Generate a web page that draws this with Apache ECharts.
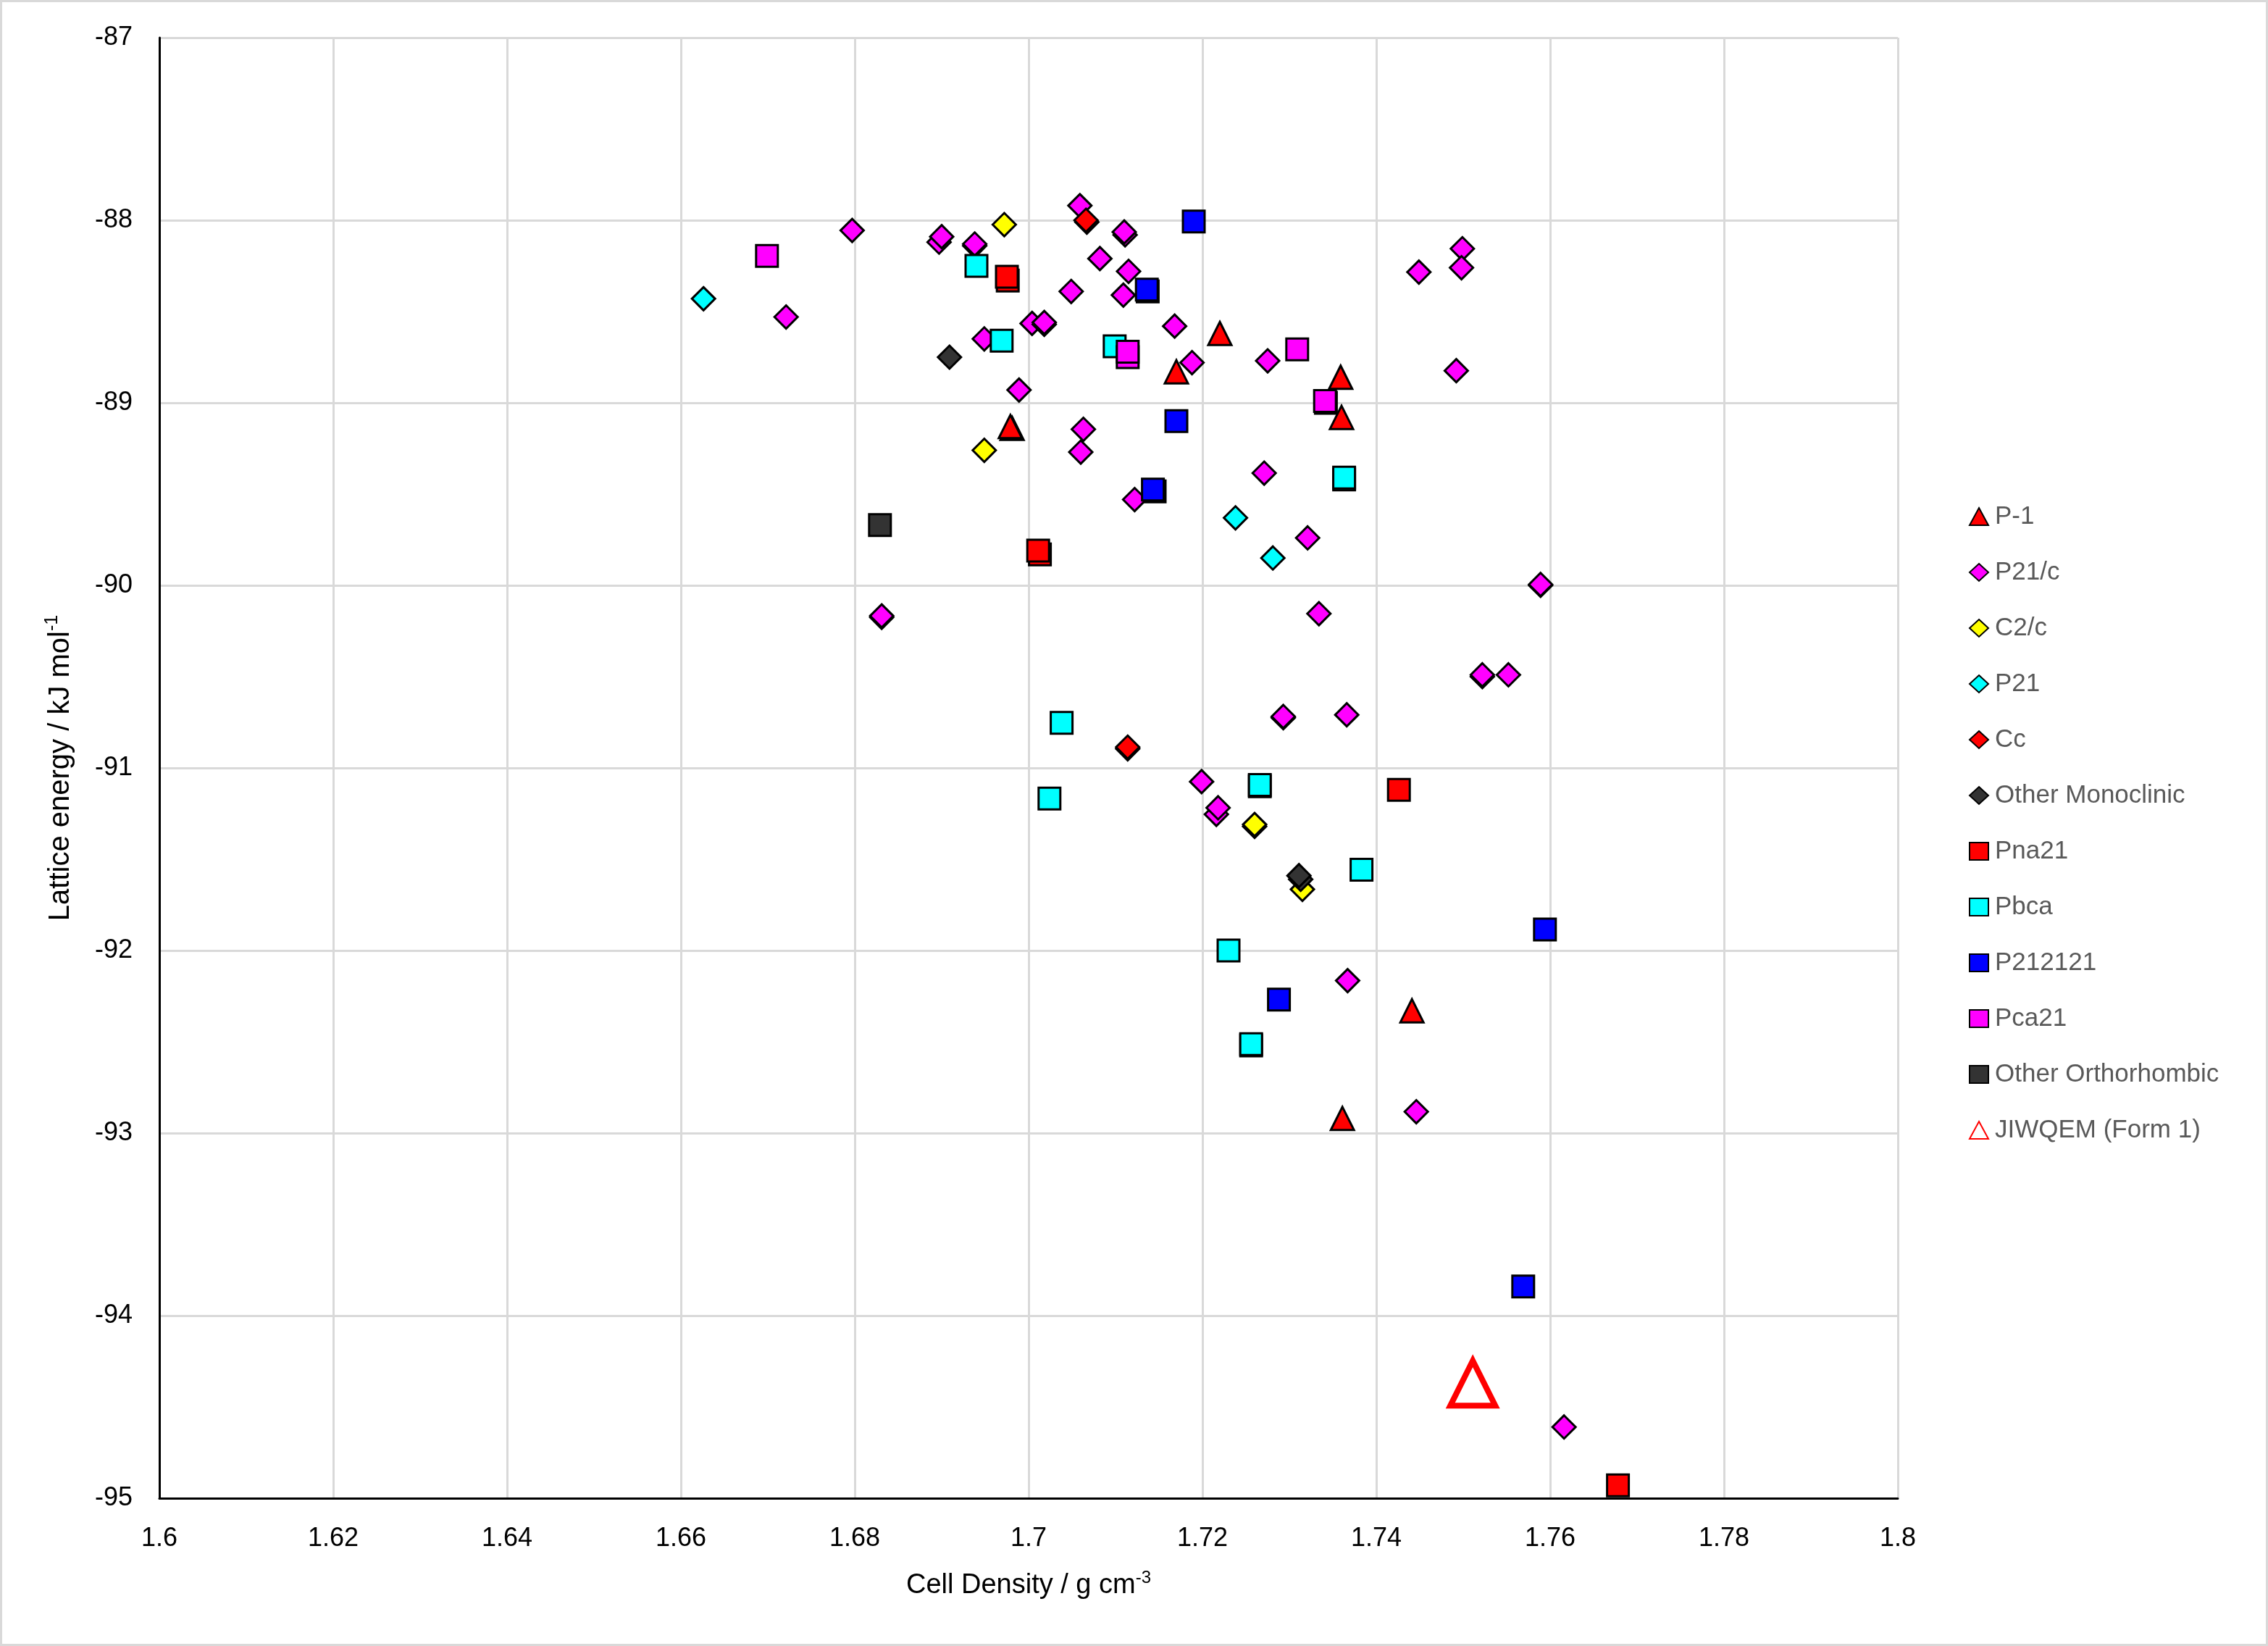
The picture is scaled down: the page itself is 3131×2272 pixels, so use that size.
<!DOCTYPE html>
<html>
<head>
<meta charset="utf-8">
<script src="https://cdn.jsdelivr.net/npm/echarts@6/dist/echarts.min.js"></script>
<style>
html,body{margin:0;padding:0;background:#fff;}
#chart{width:3131px;height:2272px;}
</style>
</head>
<body>
<div id="chart"></div>
<script>
// ---- Data (Cell density g cm-3, Lattice energy kJ mol-1) ----
const seriesNames = ['P-1','P21/c','C2/c','P21','Cc','Other Monoclinic','Pna21','Pbca','P212121','Pca21','Other Orthorhombic','JIWQEM (Form 1)'];

const dataP1 = [[1.7220,-88.62],[1.7170,-88.83],[1.6981,-89.14],[1.6979,-89.13],[1.7359,-88.86],[1.7360,-89.08],[1.7441,-92.33],[1.7361,-92.92]];
const dataP21c = [[1.6797,-88.056],[1.6897,-88.12],[1.6900,-88.09],[1.6938,-88.14],[1.6938,-88.13],[1.7059,-87.92],[1.7111,-88.08],[1.7110,-88.064],[1.7082,-88.21],[1.7115,-88.28],[1.7049,-88.39],[1.7109,-88.41],[1.7004,-88.565],[1.7018,-88.57],[1.7018,-88.56],[1.6949,-88.65],[1.7168,-88.58],[1.7188,-88.78],[1.6989,-88.93],[1.7063,-89.145],[1.7060,-89.27],[1.7122,-89.53],[1.6721,-88.53],[1.7275,-88.77],[1.7499,-88.156],[1.7498,-88.26],[1.7449,-88.284],[1.7492,-88.824],[1.7271,-89.385],[1.7321,-89.74],[1.7334,-90.155],[1.6831,-90.175],[1.6831,-90.167],[1.7589,-90.0],[1.7589,-89.995],[1.7522,-90.50],[1.7522,-90.49],[1.7552,-90.49],[1.7293,-90.725],[1.7293,-90.718],[1.7366,-90.709],[1.7199,-91.075],[1.7216,-91.254],[1.7218,-91.218],[1.7367,-92.165],[1.7446,-92.883],[1.7616,-94.61]];
const dataC2c = [[1.6972,-88.024],[1.6949,-89.26],[1.7260,-91.32],[1.7260,-91.31],[1.7315,-91.665]];
const dataP21 = [[1.6626,-88.43],[1.7238,-89.63],[1.7281,-89.85]];
const dataCc = [[1.7067,-88.01],[1.7066,-88.00],[1.7114,-90.895],[1.7114,-90.886]];
const dataOtherMono = [[1.6909,-88.75],[1.7313,-91.61],[1.7311,-91.59]];
const dataPna21 = [[1.6976,-88.33],[1.6975,-88.31],[1.7013,-89.83],[1.7011,-89.81],[1.7426,-91.12],[1.7678,-94.93]];
const dataPbca = [[1.6940,-88.25],[1.6969,-88.66],[1.7099,-88.69],[1.7363,-89.42],[1.7363,-89.41],[1.7038,-90.753],[1.7024,-91.168],[1.7266,-91.10],[1.7266,-91.093],[1.7383,-91.558],[1.7230,-92.0],[1.7256,-92.52],[1.7256,-92.513]];
const dataP212121 = [[1.7190,-88.007],[1.7137,-88.39],[1.7136,-88.38],[1.7170,-89.10],[1.7145,-89.485],[1.7143,-89.475],[1.7594,-91.885],[1.7288,-92.269],[1.7569,-93.84]];
const dataPca21 = [[1.6699,-88.195],[1.7114,-88.75],[1.7114,-88.72],[1.7309,-88.707],[1.7342,-89.0],[1.7341,-88.99]];
const dataOtherOrtho = [[1.6829,-89.67]];
const dataJIWQEM = [[1.7511,-94.37]];

const xTicks = {min:1.6, max:1.8, interval:0.02};
const yTicks = {min:-95, max:-87, interval:1};

// ---- Styles ----
const seriesData = [dataP1,dataP21c,dataC2c,dataP21,dataCc,dataOtherMono,dataPna21,dataPbca,dataP212121,dataPca21,dataOtherOrtho,dataJIWQEM];
const colors = ['#FF0000','#FF00FF','#FFFF00','#00FFFF','#FF0000','#333333','#FF0000','#00FFFF','#0000FF','#FF00FF','#333333','#FFFFFF'];
const symbols = ['triangle','diamond','diamond','diamond','diamond','diamond','rect','rect','rect','rect','rect','triangle'];
const sizes = [32,32,32,32,32,32,30,30,30,30,30,62];

const series = seriesNames.map((name,i)=>{
  const isJ = i === 11;
  return {
    name: name,
    type: 'scatter',
    data: seriesData[i],
    symbol: symbols[i],
    symbolSize: sizes[i],
    z: 2 + i,
    itemStyle: {
      color: isJ ? 'rgba(255,255,255,0)' : colors[i],
      borderColor: isJ ? '#FF0000' : '#000000',
      borderWidth: isJ ? 8 : 3,
      opacity: 1
    },
    emphasis: {disabled: true}
  };
});

const chart = echarts.init(document.getElementById('chart'), null, {renderer:'canvas'});
chart.setOption({
  animation: false,
  backgroundColor: '#ffffff',
  graphic: [{
    type: 'rect', silent: true,
    shape: {x:1.5, y:1.5, width:3128, height:2269},
    style: {fill: 'none', stroke: '#d9d9d9', lineWidth: 3}
  }],
  grid: {left: 220, right: 511, top: 52, bottom: 204},
  xAxis: {
    type: 'value',
    min: xTicks.min, max: xTicks.max, interval: xTicks.interval,
    name: '{a|Cell Density / g cm}{s|-3}',
    nameLocation: 'middle',
    nameGap: 98,
    nameTextStyle: {
      color: '#000', fontFamily: 'Liberation Sans', fontSize: 38,
      rich: {
        a: {fontSize: 38, fontFamily: 'Liberation Sans', color: '#000', lineHeight: 46},
        s: {fontSize: 24, fontFamily: 'Liberation Sans', color: '#000', verticalAlign: 'top', lineHeight: 46, padding:[0,0,14,0]}
      }
    },
    axisLine: {show: true, onZero: false, lineStyle: {color: '#000', width: 3}},
    axisTick: {show: false},
    axisLabel: {
      color: '#000', fontFamily: 'Liberation Sans', fontSize: 36, margin: 38,
      formatter: v => String(parseFloat(v.toFixed(2)))
    },
    splitLine: {show: true, lineStyle: {color: '#d9d9d9', width: 3}}
  },
  yAxis: {
    type: 'value',
    min: yTicks.min, max: yTicks.max, interval: yTicks.interval,
    name: '{a|Lattice energy / kJ mol}{s|-1}',
    nameLocation: 'middle',
    nameGap: 112,
    nameTextStyle: {
      color: '#000', fontFamily: 'Liberation Sans', fontSize: 40,
      rich: {
        a: {fontSize: 40, fontFamily: 'Liberation Sans', color: '#000', lineHeight: 48},
        s: {fontSize: 25, fontFamily: 'Liberation Sans', color: '#000', verticalAlign: 'top', lineHeight: 48, padding:[0,0,14,0]}
      }
    },
    axisLine: {show: true, onZero: false, lineStyle: {color: '#000', width: 3}},
    axisTick: {show: false},
    axisLabel: {color: '#000', fontFamily: 'Liberation Sans', fontSize: 36, margin: 37},
    splitLine: {show: true, lineStyle: {color: '#d9d9d9', width: 3}}
  },
  legend: {
    orient: 'vertical',
    left: 2713, top: 688,
    itemWidth: 26, itemHeight: 24,
    itemGap: 37,
    data: seriesNames,
    itemStyle: {borderWidth: 2},
    textStyle: {color: '#595959', fontFamily: 'Liberation Sans', fontSize: 35, lineHeight: 40, padding: [0,0,0,4]},
    selectedMode: false
  },
  series: series
});
</script>
</body>
</html>
